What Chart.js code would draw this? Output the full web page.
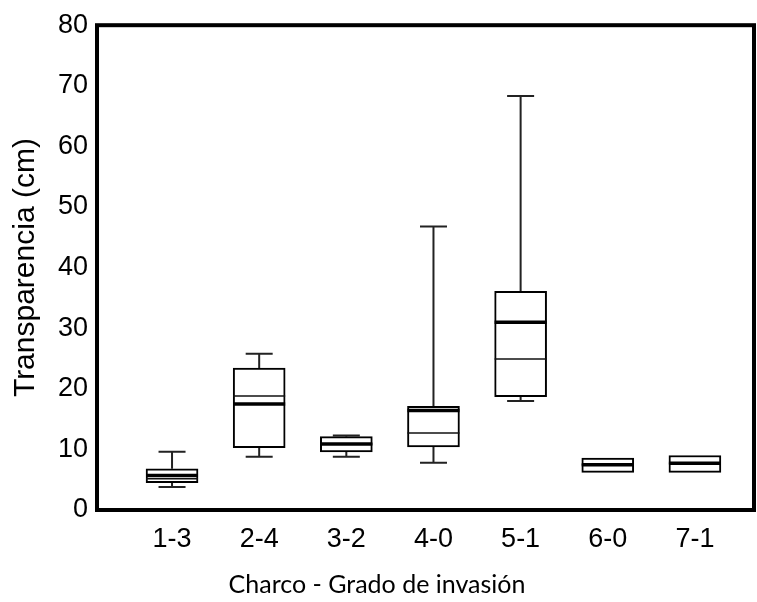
<!DOCTYPE html>
<html>
<head>
<meta charset="utf-8">
<script src="https://cdn.jsdelivr.net/npm/chart.js@4"></script>
<style>
  html, body { margin: 0; padding: 0; background: #fff; }
  #wrap { width: 757px; height: 602px; }
</style>
</head>
<body>
<div id="wrap"><canvas id="c" width="757" height="602"></canvas></div>
<script>
const categories = ['1-3', '2-4', '3-2', '4-0', '5-1', '6-0', '7-1'];
const whiskerMin = [3.8, 8.8, 8.8, 7.8, 18.0, 6.2, 6.2];
const q1 =         [4.5, 10.3, 9.6, 10.4, 18.7, 6.2, 6.2];
const median =     [5.7, 17.5, 10.9, 16.4, 31.0, 7.45, 7.7];
const meanVal =    [5.15, 18.8, 10.9, 12.7, 24.9, 7.45, 7.7];
const q3 =         [6.8, 23.4, 12.1, 17.1, 36.1, 8.55, 9.0];
const whiskerMax = [9.6, 25.8, 12.3, 46.8, 68.3, 8.55, 9.0];
const yTicks = [0, 10, 20, 30, 40, 50, 60, 70, 80];

const boxData = categories.map((c, i) => ({ x: i + 1, y: [q1[i], q3[i]] }));

const boxPlugin = {
  id: 'boxExtras',
  beforeDatasetsDraw(chart) {
    const { ctx, scales: { x, y } } = chart;
    ctx.save();
    ctx.strokeStyle = '#222';
    ctx.lineWidth = 2;
    const capHalf = 13.5;
    categories.forEach((c, i) => {
      const px = x.getPixelForValue(i + 1);
      const yMax = y.getPixelForValue(whiskerMax[i]);
      const yQ3 = y.getPixelForValue(q3[i]);
      const yQ1 = y.getPixelForValue(q1[i]);
      const yMin = y.getPixelForValue(whiskerMin[i]);
      ctx.beginPath();
      if (whiskerMax[i] > q3[i]) {
        ctx.moveTo(px, yQ3); ctx.lineTo(px, yMax);
        ctx.moveTo(px - capHalf, yMax); ctx.lineTo(px + capHalf, yMax);
      }
      if (whiskerMin[i] < q1[i]) {
        ctx.moveTo(px, yQ1); ctx.lineTo(px, yMin);
        ctx.moveTo(px - capHalf, yMin); ctx.lineTo(px + capHalf, yMin);
      }
      ctx.stroke();
    });
    ctx.restore();
  },
  afterDatasetsDraw(chart) {
    const { ctx, scales: { x, y }, chartArea: a } = chart;
    ctx.save();
    const half = 26;
    categories.forEach((c, i) => {
      const px = x.getPixelForValue(i + 1);
      ctx.strokeStyle = '#111';
      ctx.lineWidth = 1.5;
      let ym = y.getPixelForValue(meanVal[i]);
      ctx.beginPath(); ctx.moveTo(px - half, ym); ctx.lineTo(px + half, ym); ctx.stroke();
      ctx.strokeStyle = '#000';
      ctx.lineWidth = 3.5;
      let yd = y.getPixelForValue(median[i]);
      ctx.beginPath(); ctx.moveTo(px - half, yd); ctx.lineTo(px + half, yd); ctx.stroke();
    });
    // frame
    ctx.strokeStyle = '#000';
    ctx.lineWidth = 4;
    ctx.strokeRect(a.left, a.top, a.right - a.left, a.bottom - a.top);
    ctx.restore();
  }
};

new Chart(document.getElementById('c'), {
  type: 'bar',
  data: {
    datasets: [{
      data: boxData,
      backgroundColor: '#fff',
      borderColor: '#000',
      borderWidth: 2,
      borderSkipped: false,
      barThickness: 52
    }]
  },
  options: {
    responsive: false,
    animation: false,
    layout: { padding: { top: 23, right: 3, left: 0, bottom: 0 } },
    plugins: {
      legend: { display: false },
      tooltip: { enabled: false },
      title: {
        display: true,
        position: 'bottom',
        text: 'Charco - Grado de invasión',
        color: '#000',
        font: { family: 'Lato', size: 25, weight: 'normal' },
        padding: { top: 0, bottom: 2 }
      }
    },
    scales: {
      x: {
        type: 'linear',
        offset: false,
        min: 0.139,
        max: 7.678,
        grid: { display: false, drawTicks: false, offset: false },
        border: { display: false },
        afterBuildTicks(scale) { scale.ticks = categories.map((c, i) => ({ value: i + 1 })); },
        afterFit(scale) { scale.height = 60; },
        ticks: {
          autoSkip: false,
          maxRotation: 0,
          padding: 13,
          color: '#000',
          font: { family: 'Liberation Sans', size: 27 },
          callback: (v) => categories[v - 1] || ''
        }
      },
      y: {
        min: 0,
        max: 80,
        grid: { display: false, drawTicks: false },
        border: { display: false },
        afterBuildTicks(scale) { scale.ticks = yTicks.map(v => ({ value: v })); },
        afterFit(scale) { scale.width = 97; },
        ticks: {
          padding: 9,
          color: '#000',
          font: { family: 'Liberation Sans', size: 27 }
        },
        title: {
          display: true,
          text: 'Transparencia (cm)',
          color: '#000',
          font: { family: 'Liberation Sans', size: 30 },
          padding: { top: 8, bottom: 0 }
        }
      }
    }
  },
  plugins: [boxPlugin]
});
</script>
</body>
</html>
